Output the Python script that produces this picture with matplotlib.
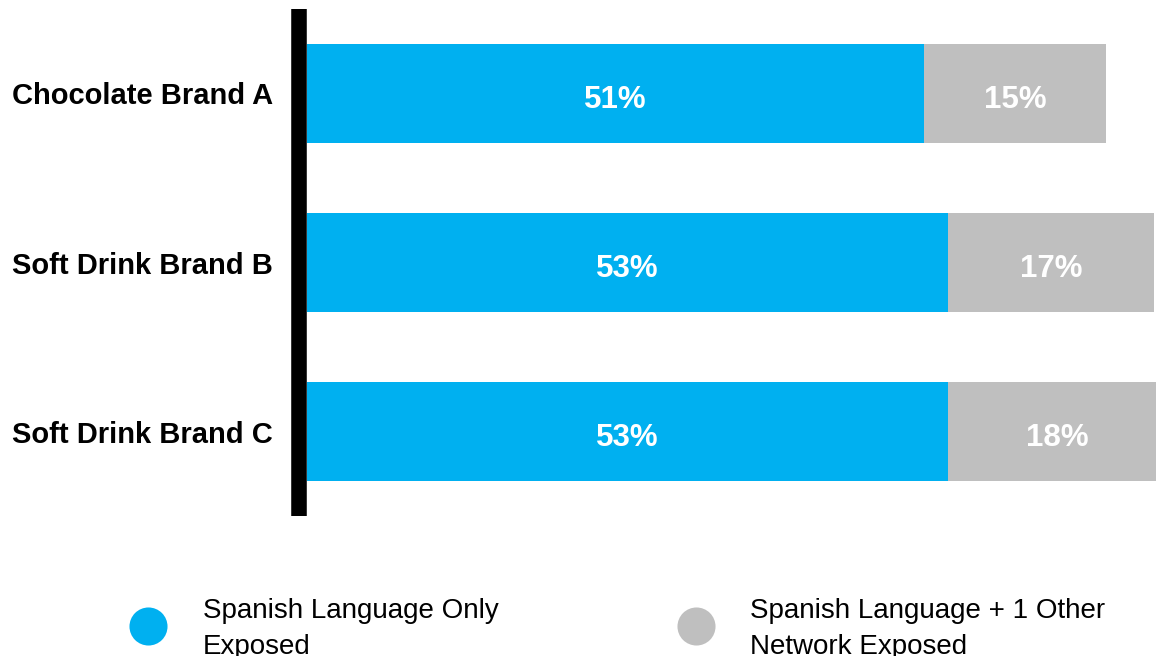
import matplotlib
matplotlib.use("Agg")
import matplotlib.pyplot as plt
from matplotlib.lines import Line2D

plt.rcParams['font.family'] = ['Liberation Sans', 'DejaVu Sans']

categories = ["Chocolate Brand A", "Soft Drink Brand B", "Soft Drink Brand C"]
spanish_only = [51, 53, 53]
spanish_plus_one = [15, 17, 18]
series_names = ["Spanish Language Only\nExposed", "Spanish Language + 1 Other\nNetwork Exposed"]

BLUE = "#00B0F0"
GRAY = "#BFBFBF"

W, H = 1156, 656
fig = plt.figure(figsize=(W / 100, H / 100), dpi=100)
ax = fig.add_axes([307 / W, (H - 515.7) / H, 1 - 307 / W, (515.7 - 9.3) / H])

# thick black left axis line, set up first since moving a spine resets its ticks
for side in ("top", "right", "bottom"):
    ax.spines[side].set_visible(False)
left = ax.spines["left"]
left.set_linewidth(11.2)
left.set_position(("outward", 5.6))
left.set_color("black")
left.set_capstyle("butt")

y = list(range(len(categories)))
bar_h = 0.586
ax.barh(y, spanish_only, height=bar_h, color=BLUE, linewidth=0)
ax.barh(y, spanish_plus_one, left=spanish_only, height=bar_h, color=GRAY, linewidth=0)

# value labels, baseline set slightly below the bar centre
for yi, a, b in zip(y, spanish_only, spanish_plus_one):
    for xc, v in ((a / 2, a), (a + b / 2, b)):
        ax.annotate(f"{v}%", (xc, yi), xytext=(0, -10.4), textcoords="offset points",
                    ha="center", va="baseline", color="white",
                    fontsize=22.5, fontweight="bold")

ax.set_xlim(0, 849 / 12.1)
ax.set_ylim(2.498, -0.498)
ax.set_xticks([])
ax.set_yticks(y)
ax.tick_params(axis="y", length=0, pad=19)
ax.set_yticklabels(categories, fontsize=21, fontweight="bold")

# legend drawn in figure pixel positions
for (cx, tx), name, col in zip([(148, 203), (696, 750)], series_names, [BLUE, GRAY]):
    fig.add_artist(Line2D([cx / W], [1 - 626 / H], marker="o", markersize=27.4,
                          color=col, markeredgewidth=0, linestyle="none",
                          transform=fig.transFigure))
    fig.text(tx / W, 1 - 598 / H, name, ha="left", va="top", fontsize=20,
             linespacing=1.5, color="black")

fig.savefig("out.png", dpi=100)
